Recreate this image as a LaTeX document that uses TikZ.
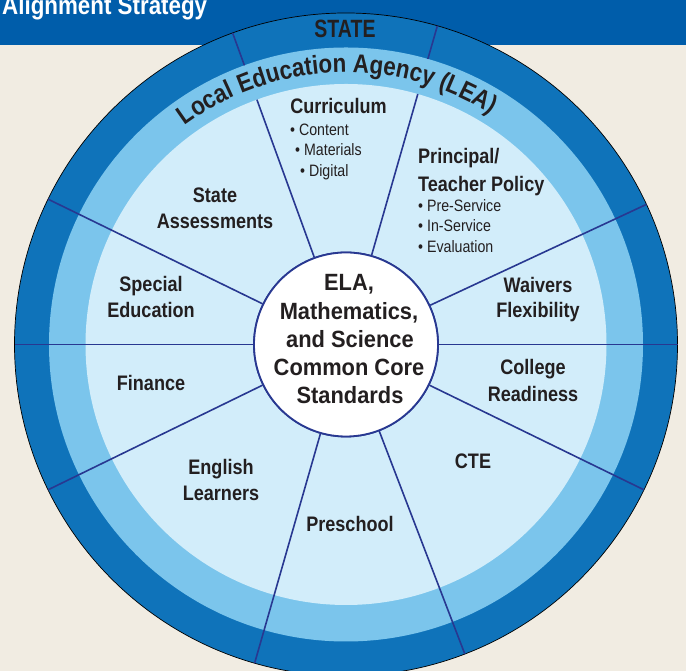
\documentclass[tikz,border=0pt]{standalone}
\usepackage{fontspec}
\usetikzlibrary{calc,decorations.text}
\newfontfamily\cf{Liberation Sans}[FakeStretch=0.86]
\newfontfamily\cfw{Liberation Sans}[FakeStretch=0.93]
\newfontfamily\cfs{Liberation Sans}[FakeStretch=0.78]
\newcommand\leafont{\cf\bfseries\fontsize{26}{30}\selectfont}
\definecolor{bgc}{HTML}{F1ECE2}
\definecolor{hdr}{HTML}{005DAA}
\definecolor{bandA}{HTML}{0F73BA}
\definecolor{bandB}{HTML}{7BC5EC}
\definecolor{bandC}{HTML}{D2EDFA}
\definecolor{navy}{HTML}{283891}
\definecolor{txt}{HTML}{231F20}
\tikzset{
  lbl/.style={inner sep=0pt, anchor=base, text=txt, font=\cf\bfseries\fontsize{21}{26}\selectfont},
  bul/.style={inner sep=0pt, anchor=base west, text=txt, font=\cf\fontsize{16.5}{20}\selectfont},
  ctrtxt/.style={inner sep=0pt, anchor=base, text=txt, font=\cfw\bfseries\fontsize{23.5}{28}\selectfont},
  spoke/.style={draw=navy, line width=1.6pt},
  hub/.style={circle, draw=navy, line width=1.8pt, fill=white, minimum size=184pt, inner sep=0pt},
}
\begin{document}
\begin{tikzpicture}[x=1pt,y=1pt]
\useasboundingbox (0,0) rectangle (686,671);
\clip (0,0) rectangle (686,671);
\fill[bgc] (0,0) rectangle (686,671);
\fill[hdr] (0,626) rectangle (686,671);
\node[anchor=base west, inner sep=0pt, text=white, font=\cf\bfseries\fontsize{26}{30}\selectfont] (title) at (2,656) {Alignment Strategy};

\coordinate (C) at (346,326.5);
% rings
\fill[bandA] (C) circle[radius=331.5];
\draw[black, line width=0.7pt] (C) circle[radius=331.5];
\fill[bandB] (C) circle[radius=297];
\fill[bandC] (C) circle[radius=260.5];

% centre circle (for spoke anchors)
\node[hub] (ctr) at (C) {};

% spokes
\foreach \a in {0,25,154,180,206,254,291,334}{
  \coordinate (s\a) at ($(C)+(\a:331.5)$);
  \draw[spoke] (ctr.\a) -- (s\a);
}
\foreach \a in {74,110}{
  \coordinate (si\a) at ($(C)+(\a:260.5)$);
  \coordinate (so\a) at ($(C)+(\a:297)$);
  \coordinate (s\a) at ($(C)+(\a:331.5)$);
  \draw[spoke] (ctr.\a) -- (si\a);
  \draw[spoke] (so\a) -- (s\a);
}
\node[hub] (ctrtop) at (C) {};

% ring labels
\node[inner sep=0pt, anchor=base, text=txt, font=\cfs\bfseries\fontsize{25}{30}\selectfont] (state) at (345,633) {STATE};
\path[decorate, decoration={text along path, text align=center, text color=txt,
  text={|\leafont|Local Education Agency (LEA)}}]
  ($(C)+(152:272)$) arc[start angle=152, end angle=32, radius=272];

% centre text
\node[ctrtxt] (c1) at (349,380) {ELA,};
\node[ctrtxt] (c2) at (349,351.5) {Mathematics,};
\node[ctrtxt] (c3) at (350,323.5) {and Science};
\node[ctrtxt] (c4) at (349,295) {Common Core};
\node[ctrtxt] (c5) at (350,267) {Standards};

% sector labels
\node[lbl] (cur) at (338.5,557) {Curriculum};
\node[bul] (cur1) at (290,535) {• Content};
\node[bul] (cur2) at (295,515) {• Materials};
\node[bul] (cur3) at (300,494) {• Digital};

\node[lbl, anchor=base west] (pt1) at (418,507) {Principal/};
\node[lbl, anchor=base west] (pt2) at (418,479) {Teacher Policy};
\node[bul] (pt3) at (418,459) {• Pre-Service};
\node[bul] (pt4) at (418,439) {• In-Service};
\node[bul] (pt5) at (418,418) {• Evaluation};

\node[lbl] (sa1) at (215,468) {State};
\node[lbl] (sa2) at (215,442) {Assessments};

\node[lbl] (se1) at (151,379) {Special};
\node[lbl] (se2) at (151,353) {Education};

\node[lbl] (fin) at (151,280) {Finance};

\node[lbl] (el1) at (221,196) {English};
\node[lbl] (el2) at (221,170) {Learners};

\node[lbl] (pre) at (350,139) {Preschool};

\node[lbl] (cte) at (473,202) {CTE};

\node[lbl] (cr1) at (533,296) {College};
\node[lbl] (cr2) at (533,269) {Readiness};

\node[lbl] (wf1) at (538,378) {Waivers};
\node[lbl] (wf2) at (538,353) {Flexibility};
\end{tikzpicture}
\end{document}
